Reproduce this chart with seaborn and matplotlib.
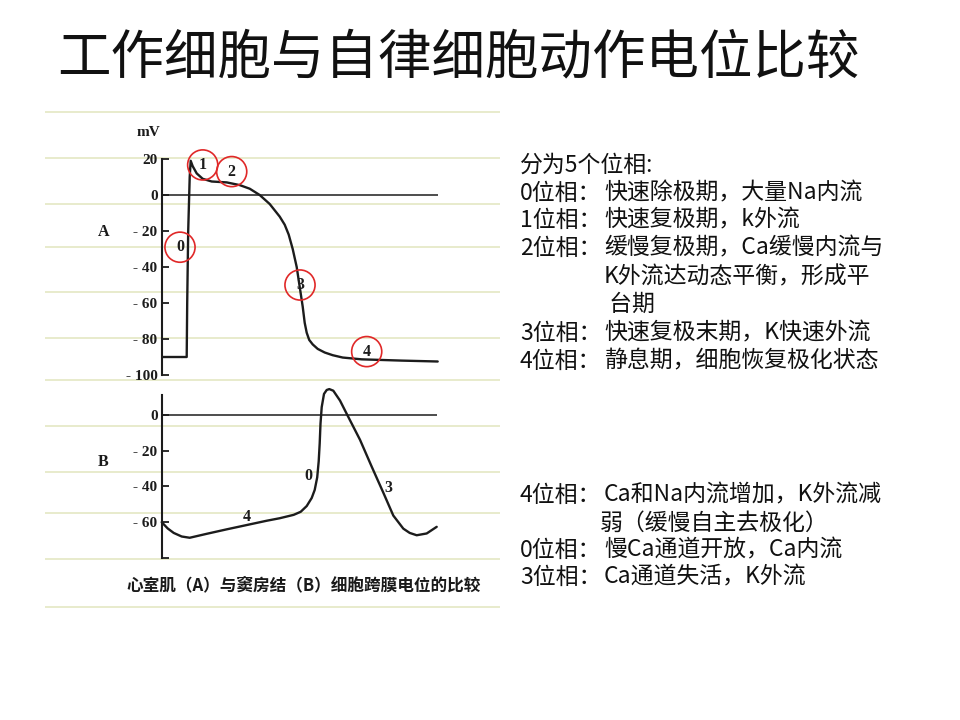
import matplotlib
matplotlib.use("Agg")
import matplotlib.pyplot as plt
import seaborn as sns

sns.set_style("white")
plt.rcParams['font.family'] = ['Noto Sans CJK SC', 'DejaVu Sans']

# ventricular muscle (A): time (arbitrary ms) and membrane potential (mV)
a_t = [0, 25, 25.5, 26.5, 28, 29, 31, 35, 41, 50, 65, 78, 88, 98, 108, 118, 123,
       127, 131, 135, 138, 141, 143, 145, 147.5, 151, 156, 163, 171, 181, 200,
       240, 276]
a_mv = [-90, -90, -60, -20, 10, 19, 16, 12, 9, 7.5, 7, 5.5, 3.5, 0, -5, -12, -16.5,
        -22, -30, -40, -51, -62, -71, -76.5, -80.5, -83, -85.5, -87.5, -89, -90.3,
        -91.3, -92, -92.5]

# sinoatrial node (B)
b_t = [0, 6, 12, 20, 28, 45, 65, 85, 105, 118, 132, 139, 145, 150, 153, 155.5,
       157, 158, 158.8, 160, 162.3, 165, 167.6, 171.6, 178.3, 185, 198.3, 210,
       221.6, 231.6, 241.6, 248, 255, 265, 275]
b_mv = [-60, -63.5, -66, -68, -68.7, -66.5, -64, -61.6, -59.2, -57.8, -55.9, -54.2,
        -51, -46.5, -42, -35, -26, -16, -5, 4.2, 11.6, 13.8, 14.3, 13.4, 7.9, 0.5,
        -14, -29, -43.5, -56.3, -63.6, -66, -67.3, -66.3, -62.6]

a_ticks = [20, 0, -20, -40, -60, -80, -100]
a_ticklabels = ["20", "0", "- 20", "- 40", "- 60", "- 80", "- 100"]
b_ticks = [0, -20, -40, -60, -80]
b_ticklabels = ["0", "- 20", "- 40", "- 60", ""]

# circled phase markers on A
a_phase = ["0", "1", "2", "3", "4"]
a_phase_t = [18.3, 41, 70, 138.3, 205]
a_phase_mv = [-29, 16.7, 13, -50, -87]
# plain phase labels on B
b_phase = ["4", "0", "3"]
b_phase_t = [85, 146.6, 226.6]
b_phase_mv = [-57, -34.3, -40.7]

title = "工作细胞与自律细胞动作电位比较"
caption = "心室肌（A）与窦房结（B）细胞跨膜电位的比较"
notes_top = [
    ("分为5个位相:", ""),
    ("0位相：", "快速除极期，大量Na内流"),
    ("1位相：", "快速复极期，k外流"),
    ("2位相：", "缓慢复极期，Ca缓慢内流与"),
    ("", "K外流达动态平衡，形成平"),
    ("", " 台期"),
    ("3位相：", "快速复极末期，K快速外流"),
    ("4位相：", "静息期，细胞恢复极化状态"),
]
notes_bottom = [
    ("4位相：", "Ca和Na内流增加，K外流减"),
    ("", "弱（缓慢自主去极化）"),
    ("0位相：", "慢Ca通道开放，Ca内流"),
    ("3位相：", "Ca通道失活，K外流"),
]

W, H = 960, 720
fig = plt.figure(figsize=(9.6, 7.2), dpi=100)
fig.patch.set_facecolor("white")

# background in pixel coordinates (ruled lines of the scanned page)
bg = fig.add_axes([0, 0, 1, 1])
bg.set_xlim(0, W)
bg.set_ylim(H, 0)
bg.axis("off")
rule_y = [112, 158, 204, 247, 292, 338, 380, 426, 472, 513, 559, 607]
bg.hlines(rule_y, 45, 500, color="#e4e7c4", linewidth=1.2)

bg.text(458, 58, title, fontsize=38.5, fontweight="light", ha="center", va="center",
        color="#111111")
bg.text(304, 585, caption, fontsize=12, fontweight="bold", ha="center", va="center",
        color="#1a1a1a")
bg.text(148, 133, "mV", fontsize=11, family="Liberation Serif", fontweight="bold",
        ha="center", va="center", color="#1a1a1a")
bg.text(104, 232, "A", fontsize=11.5, family="Liberation Serif", fontweight="bold",
        ha="center", va="center", color="#1a1a1a")
bg.text(103, 462, "B", fontsize=11.5, family="Liberation Serif", fontweight="bold",
        ha="center", va="center", color="#1a1a1a")

fs = 16.5
top_y = [165, 193, 220, 248, 277, 304, 333, 361]
for (pre, body), y in zip(notes_top, top_y):
    if pre:
        bg.text(520, y, pre, fontsize=fs, va="center", color="#111111")
    if body:
        bg.text(604, y, body, fontsize=fs, va="center", color="#111111")
bot_y = [495, 523, 550, 577]
for (pre, body), y in zip(notes_bottom, bot_y):
    if pre:
        bg.text(520, y, pre, fontsize=fs, va="center", color="#111111")
    bg.text(604 if pre else 600, y, body, fontsize=fs, va="center", color="#111111")

ink = "#1c1c1c"


def style_axis(ax, ticks, labels):
    ax.set_facecolor("none")
    for s in ["top", "right", "bottom"]:
        ax.spines[s].set_visible(False)
    ax.spines["left"].set_color(ink)
    ax.spines["left"].set_linewidth(1.5)
    ax.set_xticks([])
    ax.set_yticks(ticks)
    ax.set_yticklabels(labels, family="Liberation Serif", fontweight="bold",
                       fontsize=11, color=ink)
    ax.tick_params(axis="y", direction="in", length=5, width=1.3, color=ink, pad=3,
                   left=True)
    ax.set_xlabel("")
    ax.set_ylabel("")


# panel A
axA = fig.add_axes([161.7 / W, 1 - 375 / H, 300 / W, 216 / H])
axA.set_xlim(0, 300)
axA.set_ylim(-100, 20)
axA.hlines(0, 0, a_t[-1], color=ink, linewidth=1.1)
sns.lineplot(x=a_t, y=a_mv, ax=axA, sort=False, estimator=None, color=ink,
             linewidth=1.7)
axA.scatter(a_phase_t, a_phase_mv, s=470, facecolors="none", edgecolors="#e02828",
            linewidths=1.2, clip_on=False, zorder=5)
for lab, t, v in zip(a_phase, a_phase_t, a_phase_mv):
    axA.text(t, v, lab, fontsize=11.5, family="Liberation Serif", fontweight="bold",
             ha="center", va="center", color=ink, clip_on=False)
style_axis(axA, a_ticks, a_ticklabels)

# panel B
axB = fig.add_axes([161.7 / W, 1 - 558 / H, 300 / W, 163 / H])
axB.set_xlim(0, 300)
axB.set_ylim(-80, 11)
axB.hlines(0, 0, b_t[-1], color=ink, linewidth=1.1)
sns.lineplot(x=b_t, y=b_mv, ax=axB, sort=False, estimator=None, color=ink,
             linewidth=1.7)
for c in axB.lines:
    c.set_clip_on(False)
for lab, t, v in zip(b_phase, b_phase_t, b_phase_mv):
    axB.text(t, v, lab, fontsize=11.5, family="Liberation Serif", fontweight="bold",
             ha="center", va="center", color=ink, clip_on=False)
style_axis(axB, b_ticks, b_ticklabels)

fig.savefig("out.png", dpi=100, facecolor="white")
